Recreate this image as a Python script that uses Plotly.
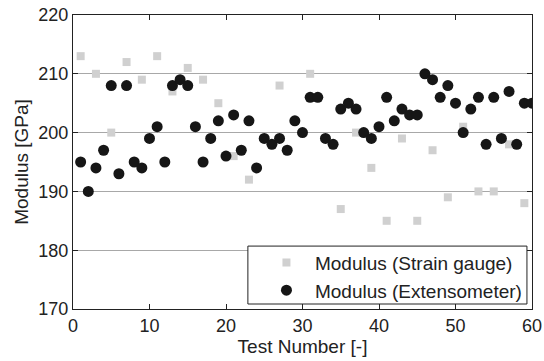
import plotly.graph_objects as go

# Extensometer modulus, tests 1..60
ext_x = list(range(1, 61))
ext_y = [195, 190, 194, 197, 208, 193, 208, 195, 194, 199,
         201, 195, 208, 209, 208, 201, 195, 199, 202, 196,
         203, 197, 202, 194, 199, 198, 199, 197, 202, 200,
         206, 206, 199, 198, 204, 205, 204, 200, 199, 201,
         206, 202, 204, 203, 203, 210, 209, 206, 208, 205,
         200, 204, 206, 198, 206, 199, 207, 198, 205, 205]

# Strain gauge modulus, odd tests
sg_x = list(range(1, 61, 2))
sg_y = [213, 210, 200, 212, 209, 213, 207, 211, 209, 205,
        196, 192, 199, 208, 202, 210, 180, 187, 200, 194,
        185, 199, 185, 197, 189, 201, 190, 190, 198, 188]

fam = "Liberation Sans, Arial, sans-serif"
font = dict(family=fam, size=18, color="#222")
big = dict(family=fam, size=19, color="#222")

fig = go.Figure()
fig.add_trace(go.Scatter(
    x=sg_x, y=sg_y, mode="markers", name="Modulus (Strain gauge)",
    marker=dict(symbol="square", size=8, color="#d0d0d0", line=dict(width=0)),
))
fig.add_trace(go.Scatter(
    x=ext_x, y=ext_y, mode="markers", name="Modulus (Extensometer)",
    marker=dict(symbol="circle", size=11, color="#161616", line=dict(width=0)),
))

# legend frame (white box hiding the data beneath it)
fig.add_shape(
    type="rect", xref="x domain", yref="y domain",
    x0=0.381, x1=0.989, y0=0.017, y1=0.214,
    fillcolor="white", line=dict(color="#222", width=1), layer="above",
)

fig.update_layout(
    width=544, height=361,
    margin=dict(l=73, r=12, t=15, b=52, autoexpand=False),
    paper_bgcolor="white", plot_bgcolor="white",
    font=font,
    showlegend=True,
    legend=dict(
        x=0.989, y=-0.002, xanchor="right", yanchor="bottom",
        bgcolor="rgba(0,0,0,0)", borderwidth=0,
        font=big,
        itemwidth=47, tracegroupgap=0,
    ),
)
fig.update_xaxes(
    range=[0, 60], tickvals=[0, 10, 20, 30, 40, 50, 60],
    ticks="inside", ticklen=5, tickcolor="#222",
    showline=True, linecolor="#222", linewidth=1, mirror="ticks",
    showgrid=False, zeroline=False, automargin=False,
    title=dict(text="Test Number [-]", standoff=2, font=big),
    tickfont=font,
)
fig.update_yaxes(
    range=[170, 220], tickvals=[170, 180, 190, 200, 210, 220],
    ticks="inside", ticklen=5, tickcolor="#222",
    showline=True, linecolor="#222", linewidth=1, mirror="ticks",
    showgrid=True, gridcolor="#a8a8a8", gridwidth=1,
    zeroline=False, automargin=False,
    title=dict(text="Modulus [GPa]", standoff=4, font=big),
    tickfont=font,
)

fig.write_html("out.html")
